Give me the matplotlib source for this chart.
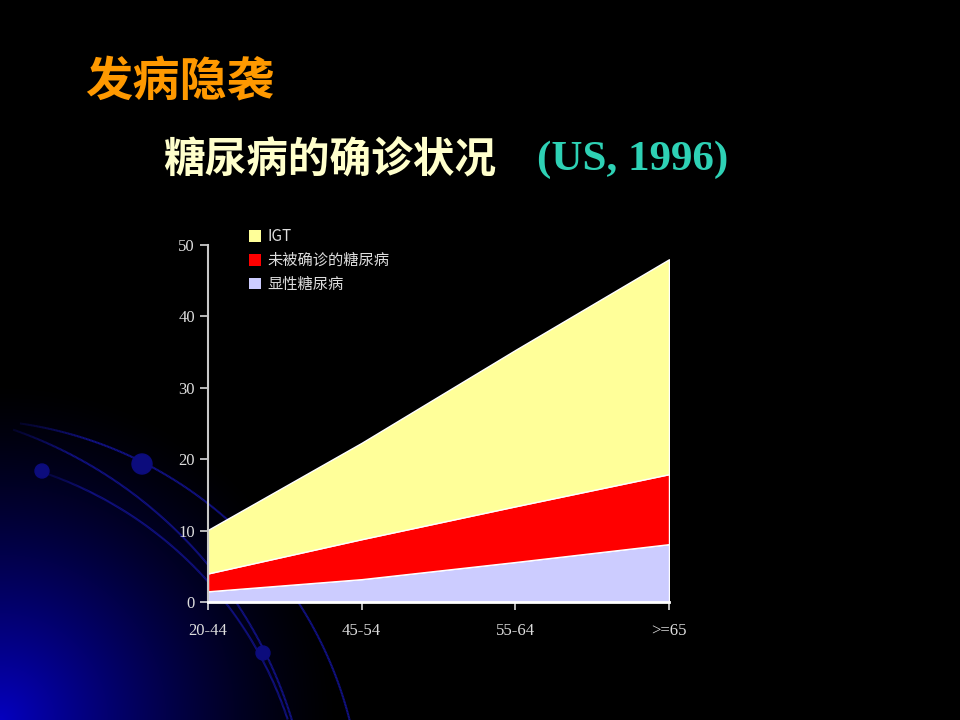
import numpy as np
import matplotlib
matplotlib.use("Agg")
import matplotlib.pyplot as plt
from matplotlib.patches import Patch, Circle

plt.rcParams['font.family'] = ['Noto Sans CJK SC', 'DejaVu Sans']

categories = ['20-44', '45-54', '55-64', '>=65']
diagnosed = [1.5, 3.2, 5.6, 8.1]        # 显性糖尿病
undiagnosed = [2.5, 5.6, 7.8, 9.8]      # 未被确诊的糖尿病
igt = [6.1, 13.5, 21.9, 30.1]           # IGT
series_labels = ['显性糖尿病', '未被确诊的糖尿病', 'IGT']
series_colors = ['#CCCCFF', '#FF0000', '#FFFF99']
yticks = [0, 10, 20, 30, 40, 50]

fig = plt.figure(figsize=(9.6, 7.2), dpi=100, facecolor='black')

# ---- background decoration (slide template) ----
bg = fig.add_axes([0, 0, 1, 1])
bg.set_xlim(0, 960)
bg.set_ylim(720, 0)
bg.axis('off')
yy, xx = np.mgrid[0:720, 0:960]
d = np.sqrt((xx - 0) ** 2 + (yy - 720) ** 2)
glow = np.clip(1 - d / 340, 0, 1) ** 1.4
img = np.zeros((720, 960, 3))
img[..., 2] = 0.75 * glow
img[..., 0] = 0.02 * glow
bg.imshow(img, extent=(0, 960, 720, 0), aspect='auto', zorder=0)


def fit_circle(pts):
    p = np.asarray(pts, float)
    A = np.c_[2 * p[:, 0], 2 * p[:, 1], np.ones(len(p))]
    b = (p ** 2).sum(1)
    cx, cy, c = np.linalg.lstsq(A, b, rcond=None)[0]
    r = np.sqrt(c + cx ** 2 + cy ** 2)
    return cx, cy, r


arc_guides = [
    [(20, 423), (142, 464), (220, 510), (297, 603), (350, 720)],
    [(13, 430), (100, 470), (200, 557), (237, 603), (292, 720)],
    [(42, 471), (133, 517), (180, 557), (263, 653), (286, 720)],
]
for pts in arc_guides:
    cx, cy, r = fit_circle(pts)
    a0 = np.arctan2(pts[0][1] - cy, pts[0][0] - cx)
    a1 = np.arctan2(pts[-1][1] - cy, pts[-1][0] - cx)
    t = np.linspace(a0, a1, 300)
    xs, ys = cx + r * np.cos(t), cy + r * np.sin(t)
    for i in range(len(t) - 1):
        alpha = min(1.0, 0.25 + i / 60)
        bg.plot(xs[i:i + 2], ys[i:i + 2], color='#111184', lw=1.5, alpha=alpha,
                solid_capstyle='butt', zorder=1)
for (px, py, pr) in [(42, 471, 7), (142, 464, 10), (263, 653, 7)]:
    bg.add_patch(Circle((px, py), pr, color='#0c0c7c', zorder=2))

# ---- titles ----
fig.text(85 / 960, 1 - 82 / 720, '发病隐袭', color='#FF9900', fontsize=34,
         fontweight='bold', va='center', ha='left')
fig.text(163 / 960, 1 - 160 / 720, '糖尿病的确诊状况', color='#FFFFCC', fontsize=30,
         fontweight='bold', va='center', ha='left')
fig.text(537 / 960, 1 - 160 / 720, '(US, 1996)', color='#2ED1B5', fontsize=31,
         fontweight='bold', va='center', ha='left', family='Liberation Serif')

# ---- chart ----
ax = fig.add_axes([208 / 960, 1 - 602 / 720, 461 / 960, 357 / 720])
ax.patch.set_alpha(0)
x = np.arange(len(categories))
ax.stackplot(x, diagnosed, undiagnosed, igt, colors=series_colors,
             edgecolor='white', linewidth=1.0)
ax.set_xlim(0, len(categories) - 1)
ax.set_ylim(0, 50)
ax.set_xticks(x)
ax.set_xticklabels(categories)
ax.set_yticks(yticks)
for s in ['top', 'right']:
    ax.spines[s].set_visible(False)
ax.spines['left'].set_color('#C8C8C8')
ax.spines['left'].set_linewidth(1.5)
ax.spines['bottom'].set_color('white')
ax.spines['bottom'].set_linewidth(2)
ax.tick_params(axis='both', colors='#D8D8D8', labelsize=12, length=6, width=1.2)
ax.tick_params(axis='x', pad=9)
for lab in ax.get_xticklabels() + ax.get_yticklabels():
    lab.set_family('Liberation Serif')
    lab.set_color('#DDDDDD')

handles = [Patch(facecolor=series_colors[i], edgecolor='none', label=series_labels[i]) for i in [2, 1, 0]]
leg = ax.legend(handles=handles, loc='upper left', bbox_to_anchor=(0.06, 1.085),
                frameon=False, fontsize=11, handlelength=0.75, handleheight=0.75,
                handletextpad=0.45, labelspacing=0.45, labelcolor='#DDDDDD')

fig.savefig('out.png', dpi=100, facecolor='black')
